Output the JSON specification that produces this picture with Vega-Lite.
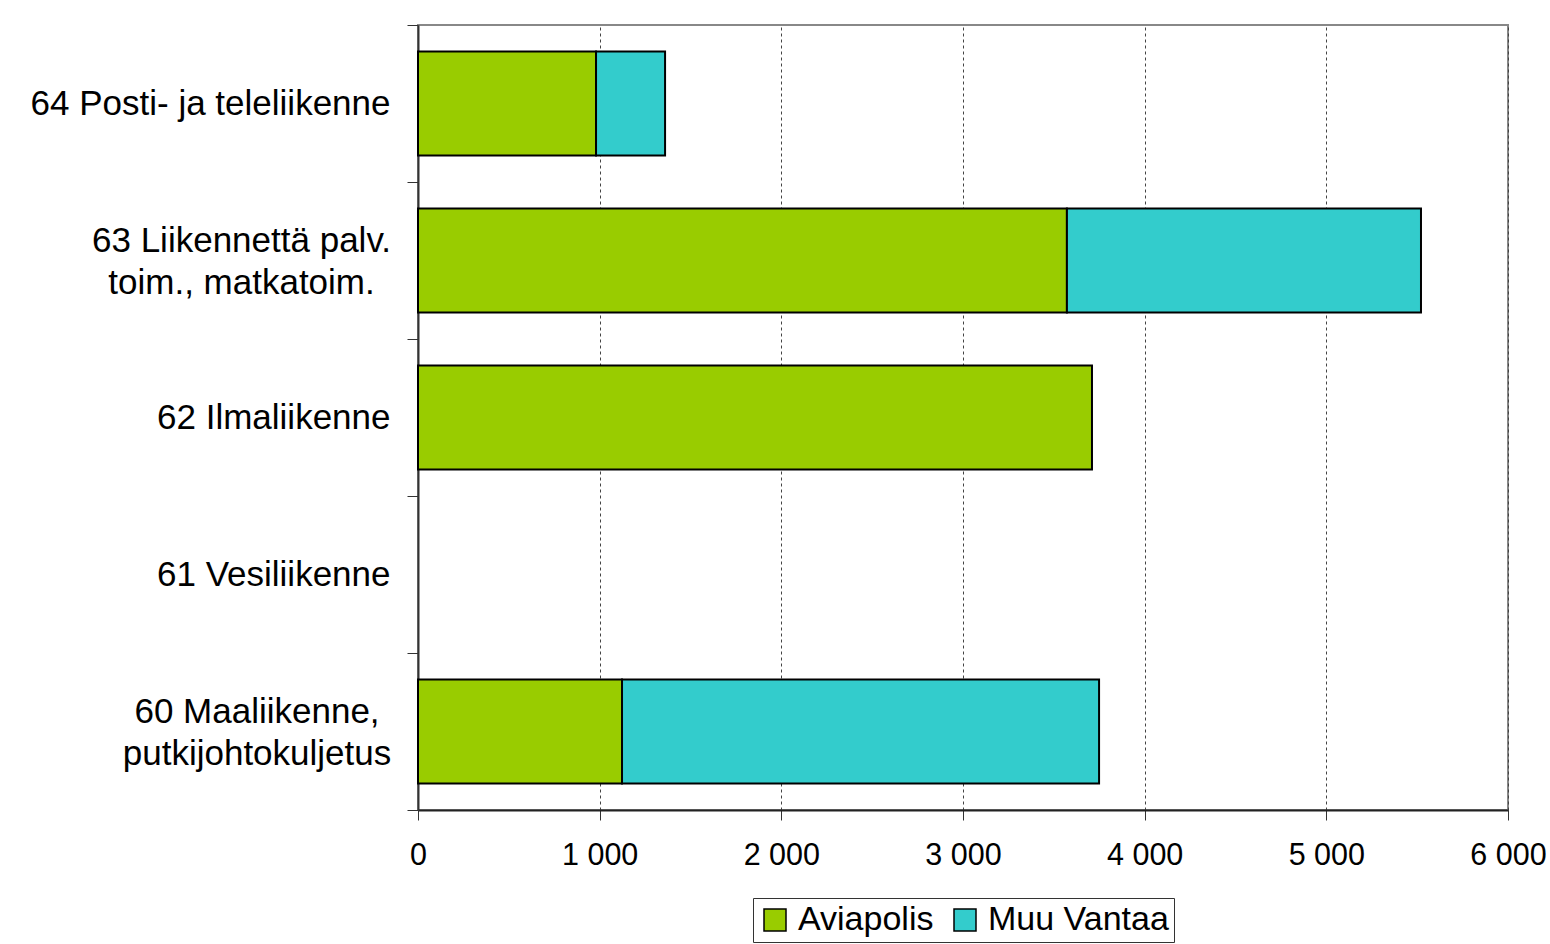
{
  "$schema": "https://vega.github.io/schema/vega-lite/v6.json",
  "autosize": "none",
  "width": 1090,
  "height": 785,
  "padding": {"left": 418, "top": 25, "right": 42, "bottom": 134},
  "background": "white",
  "config": {
    "font": "Liberation Sans",
    "view": {"stroke": "#888888", "strokeWidth": 2},
    "legend": {"layout": {"bottom": {"anchor": "middle"}}}
  },
  "data": {
    "values": [
      {"toimiala": "64 Posti- ja teleliikenne", "alue": "Aviapolis", "tyopaikat": 980},
      {"toimiala": "64 Posti- ja teleliikenne", "alue": "Muu Vantaa", "tyopaikat": 380},
      {"toimiala": "63 Liikennettä palv.|toim., matkatoim.", "alue": "Aviapolis", "tyopaikat": 3572},
      {"toimiala": "63 Liikennettä palv.|toim., matkatoim.", "alue": "Muu Vantaa", "tyopaikat": 1949},
      {"toimiala": "62 Ilmaliikenne", "alue": "Aviapolis", "tyopaikat": 3710},
      {"toimiala": "60 Maaliikenne,|putkijohtokuljetus", "alue": "Aviapolis", "tyopaikat": 1123},
      {"toimiala": "60 Maaliikenne,|putkijohtokuljetus", "alue": "Muu Vantaa", "tyopaikat": 2626}
    ]
  },
  "mark": {"type": "bar", "stroke": "black", "strokeWidth": 2, "height": {"band": 0.662}},
  "encoding": {
    "y": {
      "field": "toimiala",
      "type": "nominal",
      "scale": {
        "domain": ["64 Posti- ja teleliikenne", "63 Liikennettä palv.|toim., matkatoim.", "62 Ilmaliikenne", "61 Vesiliikenne", "60 Maaliikenne,|putkijohtokuljetus"],
        "paddingInner": 0,
        "paddingOuter": 0
      },
      "axis": {
        "title": null,
        "labelExpr": "split(datum.label, '|')",
        "labelFontSize": 35,
        "labelColor": "black",
        "labelLineHeight": 42,
        "labelLimit": 500,
        "labelAlign": {"condition": {"test": "datum.value == '63 Liikennettä palv.|toim., matkatoim.' || datum.value == '60 Maaliikenne,|putkijohtokuljetus'", "value": "center"}, "value": "right"},
        "labelOffset": {"condition": {"test": "datum.value == '63 Liikennettä palv.|toim., matkatoim.' || datum.value == '60 Maaliikenne,|putkijohtokuljetus'", "value": -20}, "value": 0},
        "labelPadding": {"condition": [
          {"test": "datum.value == '63 Liikennettä palv.|toim., matkatoim.'", "value": 166},
          {"test": "datum.value == '60 Maaliikenne,|putkijohtokuljetus'", "value": 150.5}
        ], "value": 17},
        "tickBand": "extent",
        "tickSize": 11,
        "tickColor": "#333333",
        "domainColor": "#333333",
        "domainWidth": 2,
        "grid": false
      }
    },
    "x": {
      "field": "tyopaikat",
      "type": "quantitative",
      "stack": "zero",
      "scale": {"domain": [0, 6000], "nice": false},
      "axis": {
        "title": null,
        "values": [0, 1000, 2000, 3000, 4000, 5000, 6000],
        "labelExpr": "replace(format(datum.value, ','), ',', ' ')",
        "labelFontSize": 30.5,
        "labelColor": "black",
        "labelPadding": 20,
        "labelFlush": false,
        "labelOverlap": false,
        "tickSize": 10,
        "tickColor": "#333333",
        "domainColor": "#222222",
        "domainWidth": 2,
        "grid": true,
        "gridColor": "#444444",
        "gridDash": [3, 3],
        "gridWidth": 1
      }
    },
    "color": {
      "field": "alue",
      "type": "nominal",
      "scale": {"domain": ["Aviapolis", "Muu Vantaa"], "range": ["#99CC00", "#33CCCC"]},
      "legend": {
        "title": null,
        "orient": "bottom",
        "direction": "horizontal",
        "offset": 27,
        "labelFontSize": 34,
        "labelColor": "black",
        "symbolType": "square",
        "symbolSize": 484,
        "symbolStrokeColor": "black",
        "symbolStrokeWidth": 1.5,
        "symbolOpacity": 1,
        "labelOffset": 6,
        "columnPadding": 14,
        "strokeColor": "#333333",
        "padding": 5,
        "labelLimit": 400
      }
    }
  }
}
